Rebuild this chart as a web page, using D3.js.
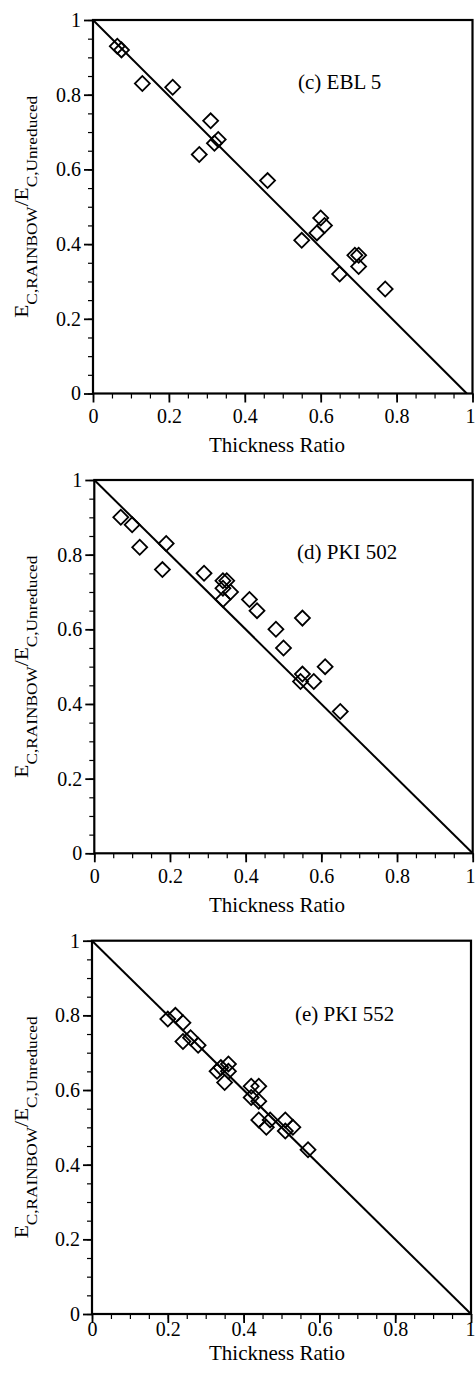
<!DOCTYPE html>
<html>
<head>
<meta charset="utf-8">
<script src="https://cdn.jsdelivr.net/npm/d3@7"></script>
<style>
  body { margin: 0; background: #fff; }
  svg { display: block; }
  svg text { font-family: "Liberation Serif", "Times New Roman", Times, serif !important; fill: #000; }
</style>
</head>
<body>
<svg id="chart" width="475" height="1373"></svg>
<script>
const serif = "Liberation Serif, Times New Roman, Times, serif";

// tick labels shared by all three panels
const xTickValues = [0, 0.2, 0.4, 0.6, 0.8, 1];
const xTickLabels = ["0", "0.2", "0.4", "0.6", "0.8", "1"];
const yTickValues = [0, 0.2, 0.4, 0.6, 0.8, 1];
const yTickLabels = ["0", "0.2", "0.4", "0.6", "0.8", "1"];

const panelNames = ["(c) EBL 5", "(d) PKI 502", "(e) PKI 552"];

// (c) EBL 5
const ebl5Thickness = [0.064, 0.075, 0.13, 0.21, 0.31, 0.33, 0.32, 0.28, 0.46, 0.55, 0.60, 0.61, 0.59, 0.69, 0.70, 0.70, 0.65, 0.77];
const ebl5Ratio     = [0.93, 0.92, 0.83, 0.82, 0.73, 0.68, 0.67, 0.64, 0.57, 0.41, 0.47, 0.45, 0.43, 0.37, 0.37, 0.34, 0.32, 0.28];
const ebl5Line = [[0, 1], [0.985, 0]];

// (d) PKI 502
const pki502Thickness = [0.07, 0.10, 0.12, 0.19, 0.18, 0.29, 0.34, 0.35, 0.34, 0.36, 0.34, 0.41, 0.43, 0.55, 0.48, 0.50, 0.61, 0.55, 0.545, 0.58, 0.65];
const pki502Ratio     = [0.90, 0.88, 0.82, 0.83, 0.76, 0.75, 0.73, 0.73, 0.71, 0.70, 0.68, 0.68, 0.65, 0.63, 0.60, 0.55, 0.50, 0.48, 0.46, 0.46, 0.38];
const pki502Line = [[0, 1], [1, 0]];

// (e) PKI 552
const pki552Thickness = [0.20, 0.22, 0.24, 0.24, 0.26, 0.28, 0.33, 0.34, 0.36, 0.36, 0.35, 0.42, 0.44, 0.42, 0.44, 0.44, 0.46, 0.47, 0.51, 0.51, 0.53, 0.57];
const pki552Ratio     = [0.79, 0.80, 0.78, 0.73, 0.74, 0.72, 0.65, 0.66, 0.67, 0.65, 0.62, 0.61, 0.61, 0.58, 0.57, 0.52, 0.50, 0.52, 0.52, 0.49, 0.50, 0.44];
const pki552Line = [[0, 1], [1, 0]];

const svg = d3.select("#chart").attr("font-family", serif);
const pageW = +svg.attr("width");

// where each panel sits in the page
const frames = [
  { top: 20,    bottom: 393.5, left: 93,   right: 472.5, labelPad: 6.5, titleDy: 58.5, noteX: 298, noteY: 89 },
  { top: 480,   bottom: 853.3, left: 94.3, right: 472.7, labelPad: 6.5, titleDy: 59,   noteX: 297, noteY: 559 },
  { top: 940.7, bottom: 1314,  left: 92,   right: 471,   labelPad: -1,  titleDy: 46,   noteX: 295, noteY: 1021 }
];

const series = [
  { xs: ebl5Thickness,   ys: ebl5Ratio,   line: ebl5Line },
  { xs: pki502Thickness, ys: pki502Ratio, line: pki502Line },
  { xs: pki552Thickness, ys: pki552Ratio, line: pki552Line }
];

const minorTicks = d3.range(0, 1.0001, 0.05);

series.forEach((s, i) => {
  const f = frames[i];
  const x = d3.scaleLinear().domain([0, 1]).range([f.left, f.right]);
  const y = d3.scaleLinear().domain([0, 1]).range([f.bottom, f.top]);
  const g = svg.append("g");

  // minor ticks
  g.append("g")
    .attr("transform", `translate(0,${f.bottom})`)
    .call(d3.axisBottom(x).tickValues(minorTicks).tickSize(5).tickSizeOuter(0).tickFormat(""))
    .call(a => a.select(".domain").remove())
    .call(a => a.selectAll("line").attr("stroke-width", 1.2));
  g.append("g")
    .attr("transform", `translate(${f.left},0)`)
    .call(d3.axisLeft(y).tickValues(minorTicks).tickSize(5).tickSizeOuter(0).tickFormat(""))
    .call(a => a.select(".domain").remove())
    .call(a => a.selectAll("line").attr("stroke-width", 1.2));

  // major ticks + labels
  g.append("g")
    .attr("transform", `translate(0,${f.bottom})`)
    .call(d3.axisBottom(x).tickValues(xTickValues).tickSize(9).tickSizeOuter(0)
      .tickPadding(f.labelPad).tickFormat((d, k) => xTickLabels[k]))
    .attr("font-family", serif).attr("font-size", 20)
    .call(a => a.select(".domain").remove())
    .call(a => a.selectAll("line").attr("stroke-width", 1.8))
    // the last label sits at the page edge; keep it inside
    .call(a => a.selectAll(".tick").filter(d => d === 1).select("text")
      .attr("text-anchor", "end").attr("x", pageW - x(1)));
  g.append("g")
    .attr("transform", `translate(${f.left},0)`)
    .call(d3.axisLeft(y).tickValues(yTickValues).tickSize(9).tickSizeOuter(0)
      .tickPadding(3).tickFormat((d, k) => yTickLabels[k]))
    .attr("font-family", serif).attr("font-size", 20)
    .call(a => a.select(".domain").remove())
    .call(a => a.selectAll("line").attr("stroke-width", 1.8));

  // frame
  g.append("rect")
    .attr("x", x(0)).attr("y", y(1))
    .attr("width", x(1) - x(0)).attr("height", y(0) - y(1))
    .attr("fill", "none").attr("stroke", "#000").attr("stroke-width", 2.2);

  // reference line
  g.append("path")
    .datum(s.line)
    .attr("d", d3.line().x(d => x(d[0])).y(d => y(d[1])))
    .attr("fill", "none").attr("stroke", "#000").attr("stroke-width", 2);

  // diamonds
  const diamond = d3.symbol().type(d3.symbolSquare).size(112);
  g.selectAll("path.pt")
    .data(s.xs.map((v, k) => [v, s.ys[k]]))
    .join("path")
    .attr("class", "pt")
    .attr("d", diamond)
    .attr("transform", d => `translate(${x(d[0])},${y(d[1])}) rotate(45)`)
    .attr("fill", "none").attr("stroke", "#000").attr("stroke-width", 1.8);

  // panel note
  g.append("text")
    .attr("x", f.noteX).attr("y", f.noteY)
    .attr("font-size", 21)
    .text(panelNames[i]);

  // x title
  g.append("text")
    .attr("x", 277).attr("y", f.bottom + f.titleDy)
    .attr("text-anchor", "middle")
    .attr("font-size", 21)
    .text("Thickness Ratio");

  // y title: E_{C,RAINBOW}/E_{C,Unreduced}
  const yt = g.append("text")
    .attr("transform", `translate(28,${(f.top + f.bottom) / 2}) rotate(-90)`)
    .attr("text-anchor", "middle")
    .attr("font-size", 18)
    .attr("textLength", 222)
    .attr("lengthAdjust", "spacingAndGlyphs");
  yt.append("tspan").text("E");
  yt.append("tspan").attr("font-size", 14.5).attr("dy", 9).text("C,RAINBOW");
  yt.append("tspan").attr("dy", -9).text("/E");
  yt.append("tspan").attr("font-size", 14.5).attr("dy", 9).text("C,Unreduced");
});
</script>
</body>
</html>
